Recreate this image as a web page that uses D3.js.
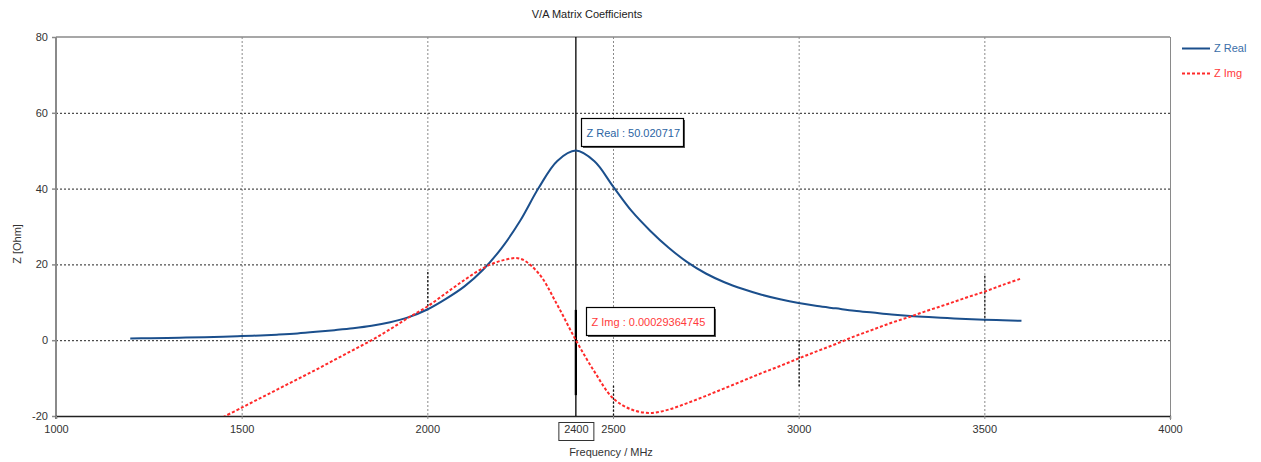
<!DOCTYPE html>
<html>
<head>
<meta charset="utf-8">
<script src="https://cdn.jsdelivr.net/npm/d3@7"></script>
<style>
  body { margin: 0; background: #fff; }
  svg { display: block; font-family: "Liberation Sans", Arial, sans-serif; }
</style>
</head>
<body>
<script>
// frequency samples (MHz)
var freq = [1200,1250,1300,1350,1400,1450,1500,1550,1600,1650,1700,1750,1800,1850,1900,1950,
            2000,2050,2100,2150,2200,2250,2300,2350,2400,2450,2500,2550,2600,2650,2700,2750,
            2800,2850,2900,2950,3000,3050,3100,3150,3200,3250,3300,3350,3400,3450,3500,3550,3600];
var zReal = [0.45,0.52,0.6,0.7,0.8,0.92,1.08,1.25,1.5,1.8,2.2,2.65,3.15,3.8,4.75,6.1,
             8.1,10.9,14.2,18.6,24.3,31.5,40.2,47.3,50.02,47.2,40.6,34.1,28.9,24.4,20.6,17.6,
             15.3,13.5,12.0,10.8,9.8,9.0,8.4,7.8,7.3,6.8,6.4,6.1,5.85,5.6,5.4,5.25,5.1];
var freqImg = [1450,1500,1550,1600,1650,1700,1750,1800,1850,1900,1950,
               2000,2050,2100,2150,2200,2250,2300,2350,2400,2450,2500,2550,2600,2650,2700,2750,
               2800,2850,2900,2950,3000,3050,3100,3150,3200,3250,3300,3350,3400,3450,3500,3550,3600];
var zImg = [-20.3,-17.8,-15.3,-12.8,-10.3,-7.8,-5.2,-2.6,0.0,2.9,6.0,
            8.9,12.4,15.9,19.0,21.0,21.5,17.6,9.3,0.0003,-8.3,-15.3,-18.3,-19.2,-18.3,-16.6,-14.7,
            -12.7,-10.7,-8.7,-6.8,-4.8,-2.9,-1.0,1.0,2.8,4.6,6.2,7.9,9.5,11.2,12.8,14.6,16.3];

var xTicks = [1000,1500,2000,2500,3000,3500,4000];
var yTicks = [-20,0,20,40,60,80];
var xGrid = [1500,2000,2500,3000,3500];
var yGrid = [0,20,40,60];

// short dark dotted pieces on the vertical grid
var markFreq = [2000,2500,3000,3500];
var markFrom = [18,-12,0,17];
var markTo = [8,-20,-12.5,5];

var cursorFreq = 2400;
var cursorReal = "Z Real : 50.020717";
var cursorImg = "Z Img : 0.00029364745";

var seriesNames = ["Z Real","Z Img"];
var seriesColors = ["#1b4f8c","#ff2a2a"];

var W = 1261, H = 462;
var svg = d3.select("body").append("svg").attr("width", W).attr("height", H);

var x = d3.scaleLinear().domain([1000,4000]).range([56,1170]);
var y = d3.scaleLinear().domain([-20,80]).range([416,37]);

svg.append("defs").append("clipPath").attr("id","plot")
  .append("rect").attr("x",56).attr("y",37).attr("width",1114).attr("height",379);

// grid
svg.selectAll(".vg").data(xGrid).enter().append("line")
  .attr("x1", d => x(d) + 0.5).attr("x2", d => x(d) + 0.5)
  .attr("y1", y(80)).attr("y2", y(-20))
  .attr("stroke","#8a8a8a").attr("stroke-width",1).attr("stroke-dasharray","2,2");
svg.selectAll(".hg").data(yGrid).enter().append("line")
  .attr("x1", x(1000)).attr("x2", x(4000))
  .attr("y1", d => y(d) + 0.5).attr("y2", d => y(d) + 0.5)
  .attr("stroke","#222").attr("stroke-width",1).attr("stroke-dasharray","2,2");
svg.selectAll(".mk").data(markFreq).enter().append("line")
  .attr("x1", d => x(d) + 0.5).attr("x2", d => x(d) + 0.5)
  .attr("y1", (d,i) => y(markFrom[i])).attr("y2", (d,i) => y(markTo[i]))
  .attr("stroke","#111").attr("stroke-width",1.3).attr("stroke-dasharray","2,2");

// frame
svg.append("line").attr("x1",x(1000)).attr("x2",x(4000)).attr("y1",y(80)).attr("y2",y(80))
  .attr("stroke","#8a8a8a").attr("stroke-width",1.5);
svg.append("line").attr("x1",x(4000)+0.5).attr("x2",x(4000)+0.5).attr("y1",y(80)).attr("y2",y(-20)+4)
  .attr("stroke","#8a8a8a").attr("stroke-width",1);
svg.append("line").attr("x1",x(1000)).attr("x2",x(1000)).attr("y1",y(80)).attr("y2",y(-20)+3)
  .attr("stroke","#8a8a8a").attr("stroke-width",2);

// axes
var yAxis = svg.append("g").attr("transform","translate(" + x(1000) + ",0)")
  .call(d3.axisLeft(y).tickValues(yTicks).tickSize(4).tickPadding(4)
        .tickFormat(d => String(d)));
var xAxis = svg.append("g").attr("transform","translate(0," + y(-20) + ")")
  .call(d3.axisBottom(x).tickValues(xTicks.concat([cursorFreq])).tickSize(3).tickPadding(6)
        .tickFormat(d => String(d)));
yAxis.select(".domain").remove();
xAxis.select(".domain").attr("stroke","#222").attr("stroke-width",1.3);
yAxis.selectAll(".tick line").attr("stroke","#8a8a8a").attr("stroke-width",1.5);
xAxis.selectAll(".tick line").attr("stroke","#8a8a8a");
[yAxis, xAxis].forEach(function(g) {
  g.selectAll(".tick text").attr("font-size",11).attr("fill","#333")
   .attr("font-family","Liberation Sans, Arial, sans-serif");
});

// boxed cursor tick label
xAxis.selectAll(".tick").filter(d => d === cursorFreq).each(function() {
  var t = d3.select(this);
  t.select("line").remove();
  t.insert("rect","text").attr("x",-17.5).attr("y",6.5).attr("width",35).attr("height",18)
    .attr("fill","#fff").attr("stroke","#333").attr("stroke-width",1);
});

// cursor line
svg.append("line").attr("x1",x(cursorFreq)).attr("x2",x(cursorFreq))
  .attr("y1",y(80)).attr("y2",y(-20)).attr("stroke","#000").attr("stroke-width",1.3);
svg.append("line").attr("x1",x(cursorFreq)).attr("x2",x(cursorFreq))
  .attr("y1",y(8)).attr("y2",y(-14.5)).attr("stroke","#000").attr("stroke-width",2.3);

// curves
var line = d3.line().x(d => x(d[0])).y(d => y(d[1])).curve(d3.curveCatmullRom.alpha(0.5));
var plot = svg.append("g").attr("clip-path","url(#plot)");
plot.append("path").datum(d3.zip(freq, zReal)).attr("d", line)
  .attr("fill","none").attr("stroke",seriesColors[0]).attr("stroke-width",2);
plot.append("path").datum(d3.zip(freqImg, zImg)).attr("d", line)
  .attr("fill","none").attr("stroke",seriesColors[1]).attr("stroke-width",2)
  .attr("stroke-dasharray","3,2");

// cursor readouts
function readout(px, py, w, txt, col) {
  var g = svg.append("g").attr("transform","translate(" + px + "," + py + ")");
  g.append("rect").attr("x",1.5).attr("y",1.5).attr("width",w).attr("height",28).attr("fill","#555");
  g.append("rect").attr("width",w).attr("height",28).attr("fill","#fff")
    .attr("stroke","#000").attr("stroke-width",1.2);
  g.append("text").attr("x",5).attr("y",18).attr("font-size",11).attr("fill",col).text(txt);
}
readout(581.5, 118.5, 102, cursorReal, "#2b64a3");
readout(586.5, 307.5, 128, cursorImg, "#ff3b3b");

// legend
var leg = svg.selectAll(".leg").data(seriesNames).enter().append("g")
  .attr("transform", (d,i) => "translate(1182," + (48 + i*25) + ")");
leg.append("line").attr("x1",0).attr("x2",28).attr("y1",0.5).attr("y2",0.5)
  .attr("stroke",(d,i) => seriesColors[i]).attr("stroke-width",2)
  .attr("stroke-dasharray",(d,i) => i ? "3,2" : null);
leg.append("text").attr("x",32).attr("y",4).attr("font-size",11)
  .attr("fill",(d,i) => i ? "#ff3b3b" : "#3a6ea8").text(d => d);

// titles
svg.append("text").attr("x",587).attr("y",18).attr("text-anchor","middle")
  .attr("font-size",11).attr("fill","#222").text("V/A Matrix Coefficients");
svg.append("text").attr("x",611).attr("y",456).attr("text-anchor","middle")
  .attr("font-size",11).attr("fill","#333").text("Frequency / MHz");
svg.append("text").attr("transform","translate(21,244) rotate(-90)").attr("text-anchor","middle")
  .attr("font-size",11).attr("fill","#333").text("Z [Ohm]");
</script>
</body>
</html>
